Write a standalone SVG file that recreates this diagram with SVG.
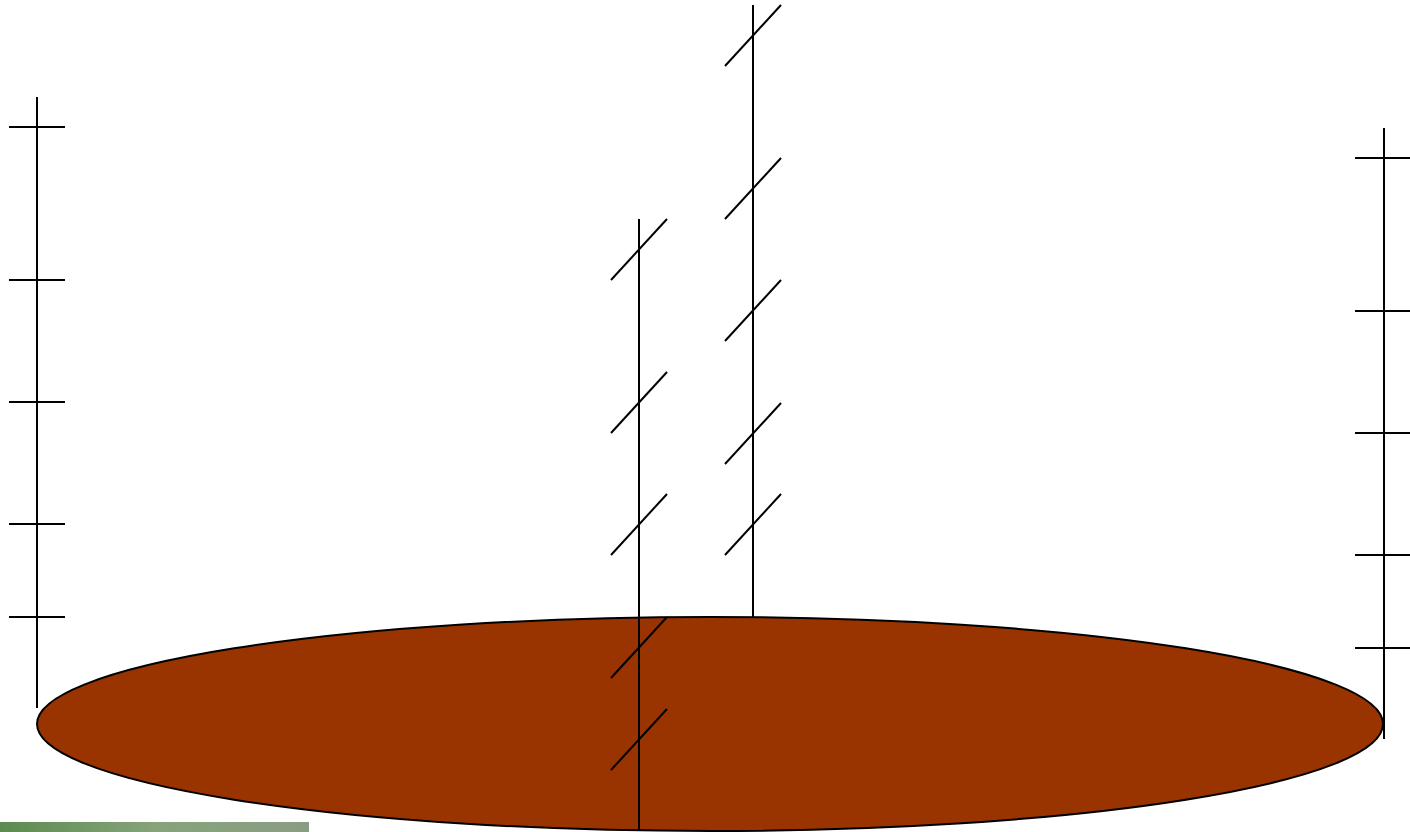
<svg xmlns="http://www.w3.org/2000/svg" width="1410" height="832" viewBox="0 0 1410 832">
<style>
.l{stroke:#000;stroke-width:2;fill:none}
</style>
<defs>
<linearGradient id="g" x1="0" y1="0" x2="1" y2="0">
<stop offset="0" stop-color="#5b8b4f"/>
<stop offset="0.5" stop-color="#86a37a"/>
<stop offset="1" stop-color="#8a9d84"/>
</linearGradient>
</defs>
<rect width="1410" height="832" fill="#fff"/>
<rect x="0" y="822" width="309" height="10" fill="url(#g)"/>
<g id="pole2">
<line class="l" x1="753" y1="5" x2="753" y2="617"/>
<line class="l" x1="725" y1="66" x2="781" y2="5"/>
<line class="l" x1="725" y1="219" x2="781" y2="158"/>
<line class="l" x1="725" y1="341" x2="781" y2="280"/>
<line class="l" x1="725" y1="464" x2="781" y2="403"/>
<line class="l" x1="725" y1="555" x2="781" y2="494"/>
</g>
<g id="left">
<line class="l" x1="37" y1="97" x2="37" y2="708"/>
<line class="l" x1="9" y1="127" x2="65" y2="127"/>
<line class="l" x1="9" y1="280" x2="65" y2="280"/>
<line class="l" x1="9" y1="402" x2="65" y2="402"/>
<line class="l" x1="9" y1="524" x2="65" y2="524"/>
<line class="l" x1="9" y1="617" x2="65" y2="617"/>
</g>
<g id="disc">
<ellipse cx="710" cy="724" rx="673" ry="107" fill="#993300" stroke="#000" stroke-width="2"/>
</g>
<g id="pole1">
<line class="l" x1="639" y1="219" x2="639" y2="831"/>
<line class="l" x1="611" y1="280" x2="667" y2="219"/>
<line class="l" x1="611" y1="433" x2="667" y2="372"/>
<line class="l" x1="611" y1="555" x2="667" y2="494"/>
<line class="l" x1="611" y1="678" x2="667" y2="617"/>
<line class="l" x1="611" y1="770" x2="667" y2="709"/>
</g>
<g id="right">
<line class="l" x1="1384" y1="128" x2="1384" y2="739"/>
<line class="l" x1="1355" y1="158" x2="1410" y2="158"/>
<line class="l" x1="1355" y1="311" x2="1410" y2="311"/>
<line class="l" x1="1355" y1="433" x2="1410" y2="433"/>
<line class="l" x1="1355" y1="555" x2="1410" y2="555"/>
<line class="l" x1="1355" y1="648" x2="1410" y2="648"/>
</g>
</svg>
